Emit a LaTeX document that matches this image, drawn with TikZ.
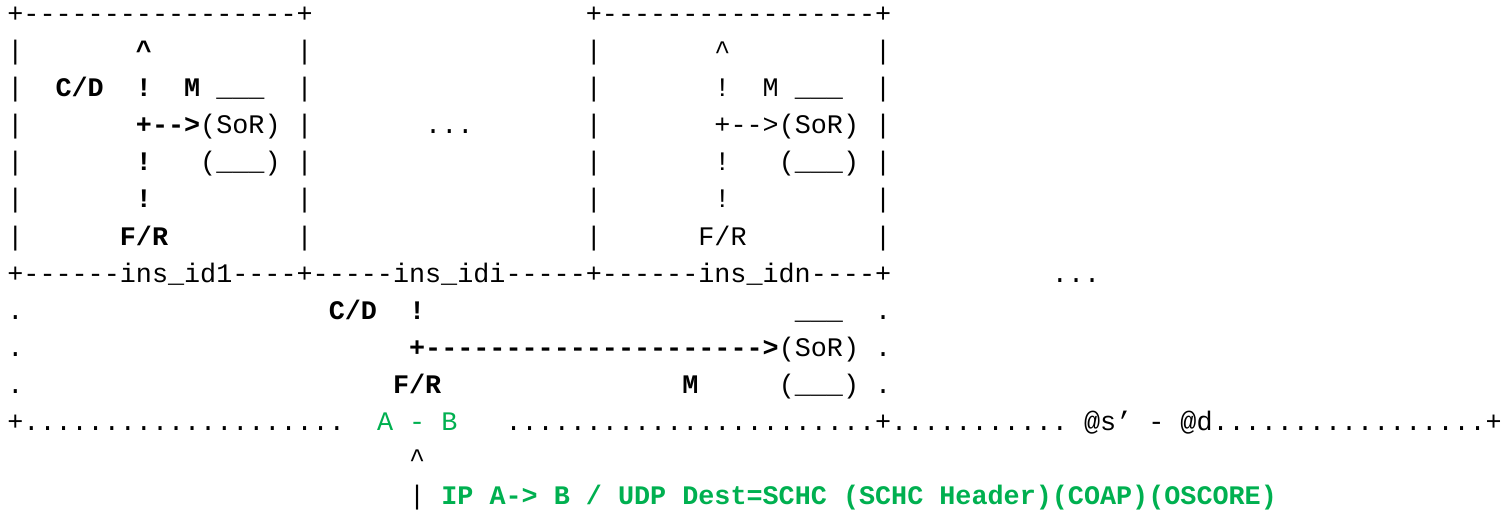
\documentclass[tikz,border=0pt]{standalone}
\usepackage{fontspec}
\setmonofont{Liberation Mono}
\definecolor{ipgreen}{RGB}{0,176,80}
\begin{document}
\begin{tikzpicture}[x = 8.035pt, y = -18.56pt,
  asc/.style = {inner sep = 0pt, anchor = base west, font = \ttfamily\fontsize{13.39pt}{18.56pt}\selectfont},
  ascb/.style = {asc, font = \ttfamily\bfseries\fontsize{13.39pt}{18.56pt}\selectfont},
  ipg/.style = {text = ipgreen}]
\useasboundingbox (-0.4356,0.397) rectangle (93.03,14.19);

% instance boxes
\node[asc] (topa) at (0,1) {+-----------------+};
\node[asc] (topn) at (36,1) {+-----------------+};
\foreach \r in {2,...,7}{
  \node[asc] (la\r) at (0,\r) {|};
  \node[asc] (ra\r) at (18,\r) {|};
  \node[asc] (ln\r) at (36,\r) {|};
  \node[asc] (rn\r) at (54,\r) {|};
}
\node[ascb] (upa) at (8,2) {\textasciicircum};
\node[ascb] (cda) at (3,3) {C/D};
\node[ascb] (exa) at (8,3) {!};
\node[ascb] (ma) at (11,3) {M};
\node[asc] (lida) at (13,3) {\_\_\_};
\node[ascb] (arra) at (8,4) {+-->};
\node[asc] (sora) at (12,4) {(SoR)};
\node[ascb] (exa5) at (8,5) {!};
\node[asc] (bota) at (12,5) {(\_\_\_)};
\node[ascb] (exa6) at (8,6) {!};
\node[ascb] (fra) at (7,7) {F/R};

\node[asc] (dotsi) at (26,4) {...};

\node[asc] (upn) at (44,2) {\textasciicircum};
\node[asc] (exn) at (44,3) {!};
\node[asc] (mn) at (47,3) {M};
\node[asc] (lidn) at (49,3) {\_\_\_};
\node[asc] (sorn) at (44,4) {+-->(SoR)};
\node[asc] (exn5) at (44,5) {!};
\node[asc] (botn) at (48,5) {(\_\_\_)};
\node[asc] (exn6) at (44,6) {!};
\node[asc] (frn) at (43,7) {F/R};

% instance ids
\node[asc] (ids) at (0,8) {+------ins\_id1----+-----ins\_idi-----+------ins\_idn----+};
\node[asc] (dotsn) at (65,8) {...};

% common part
\node[asc] (ld9) at (0,9) {.};
\node[asc] (ld10) at (0,10) {.};
\node[asc] (ld11) at (0,11) {.};
\node[asc] (rd9) at (54,9) {.};
\node[asc] (rd10) at (54,10) {.};
\node[asc] (rd11) at (54,11) {.};
\node[ascb] (cdc) at (20,9) {C/D};
\node[ascb] (exc) at (25,9) {!};
\node[asc] (lidc) at (49,9) {\_\_\_};
\node[ascb] (arrc) at (25,10) {+--------------------->};
\node[asc] (sorc) at (48,10) {(SoR)};
\node[ascb] (frc) at (24,11) {F/R};
\node[ascb] (mc) at (42,11) {M};
\node[asc] (botc) at (48,11) {(\_\_\_)};

% addresses
\node[asc] (linea) at (0,12) {+....................};
\node[asc, ipg] (ab) at (23,12) {A - B};
\node[asc] (lineb) at (31,12) {.......................+........... @s’ - @d.................+};
\node[asc] (up) at (25,13) {\textasciicircum};
\node[asc] (bar) at (25,14) {|};
\node[ascb, ipg] (pkt) at (27,14) {IP A-> B / UDP Dest=SCHC (SCHC Header)(COAP)(OSCORE)};

\end{tikzpicture}
\end{document}
